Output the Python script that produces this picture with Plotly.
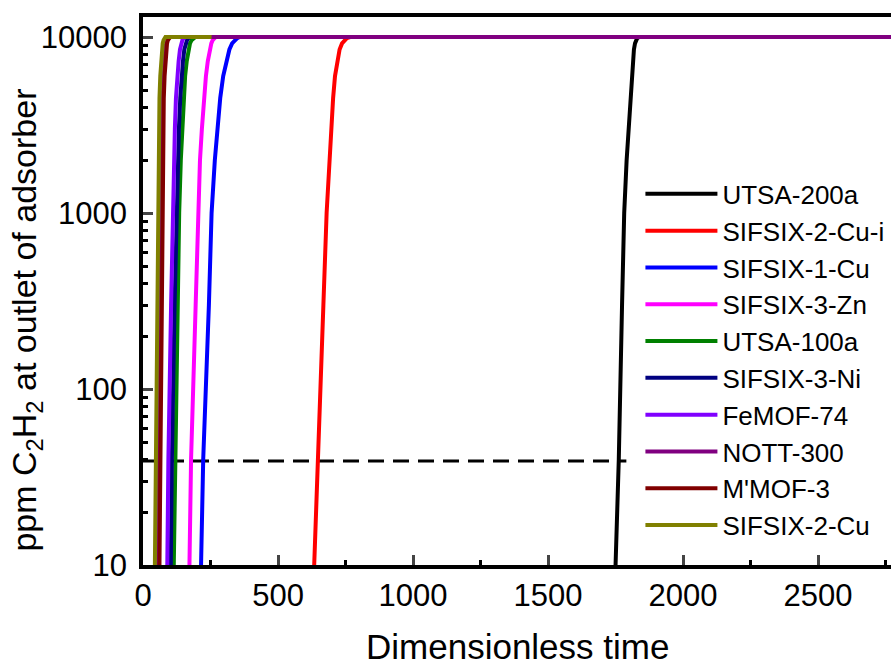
import plotly.graph_objects as go

# ---- data ----
names = ["UTSA-200a", "SIFSIX-2-Cu-i", "SIFSIX-1-Cu", "SIFSIX-3-Zn", "UTSA-100a",
         "SIFSIX-3-Ni", "FeMOF-74", "NOTT-300", "M'MOF-3", "SIFSIX-2-Cu"]
colors = ["#000000", "#FF0000", "#0000FF", "#FF00FF", "#008000",
          "#000080", "#8000FF", "#800080", "#800000", "#808000"]

ppm_levels = [10, 40, 300, 1000, 2000, 3000, 4500, 6000, 7300, 8500, 9200, 9600, 9850,
              10000, 10000]

t_utsa200a = [1750, 1762, 1774, 1782, 1791, 1798, 1804, 1810, 1814, 1818, 1822, 1826, 1830, 1837, 3000]
t_sifsix2cui = [634, 649, 668, 680, 690, 696, 704, 711, 719, 728, 737, 746, 755, 767, 3000]
t_sifsix1cu = [215, 223, 244, 254, 266, 275, 286, 297, 308, 320, 330, 340, 349, 358, 3000]
t_sifsix3zn = [172, 178, 195, 203, 211, 218, 226, 233, 240, 247, 253, 258, 263, 269, 3000]
t_utsa100a = [114, 119, 128, 134, 140, 145, 151, 156, 162, 168, 174, 180, 186, 194, 3000]
t_sifsix3ni = [103, 107, 117, 124, 129, 133, 138, 143, 148, 153, 158, 163, 168, 175, 3000]
t_femof74 = [90, 94, 104, 110, 114, 118, 122, 127, 132, 137, 142, 146, 151, 157, 3000]
t_nott300 = [56, 59, 64, 67, 69, 71, 73, 76, 79, 82, 86, 89, 93, 98, 3000]
t_mmof3 = [61, 64, 68, 71, 73, 75, 77, 80, 83, 86, 89, 92, 96, 101, 250]
t_sifsix2cu = [44, 48, 52, 55, 57, 59, 61, 64, 67, 70, 73, 76, 79, 83, 254]

series_t = [t_utsa200a, t_sifsix2cui, t_sifsix1cu, t_sifsix3zn, t_utsa100a,
            t_sifsix3ni, t_femof74, t_nott300, t_mmof3, t_sifsix2cu]

dash_level = 39
dash_x = [0, 1790]

x_ticks = [0, 500, 1000, 1500, 2000, 2500]
x_minor = [250, 750, 1250, 1750, 2250, 2750]
y_ticks = [10, 100, 1000, 10000]
y_minor = [v * m for m in (10, 100, 1000) for v in range(2, 10)]

FONT = "Arial, Liberation Sans, sans-serif"

fig = go.Figure()

fig.add_trace(go.Scatter(x=dash_x, y=[dash_level, dash_level], mode="lines",
                         line=dict(color="black", width=3, dash="16px,9px"),
                         showlegend=False, hoverinfo="skip"))

for i, (n, c, t) in enumerate(zip(names, colors, series_t)):
    fig.add_trace(go.Scatter(x=t, y=ppm_levels, mode="lines", name=n,
                             legendgroup=f"g{i}",
                             line=dict(color=c, width=4)))

fig.update_layout(
    width=891, height=665,
    margin=dict(l=143, r=0, t=17, b=100),
    paper_bgcolor="white", plot_bgcolor="white",
    font=dict(family=FONT, color="black"),
    showlegend=True,
    legend=dict(x=0.665, y=0.72, xanchor="left", yanchor="top",
                bgcolor="rgba(0,0,0,0)", borderwidth=0,
                font=dict(size=26, family=FONT, color="black"),
                traceorder="grouped", tracegroupgap=0, itemwidth=72),
    xaxis=dict(range=[0, 2770], tickvals=x_ticks, ticks="inside", ticklen=10, tickwidth=3,
               showline=True, linewidth=3.5, linecolor="black", mirror=True,
               showgrid=False, zeroline=False,
               tickfont=dict(size=31, family=FONT),
               minor=dict(tickvals=x_minor, ticks="inside",
                          ticklen=5, tickwidth=3, tickcolor="black")),
    yaxis=dict(type="log", range=[1, 4.114], tickvals=y_ticks,
               ticktext=[str(v) for v in y_ticks],
               ticks="inside", ticklen=10, tickwidth=3,
               showline=True, linewidth=3.5, linecolor="black", mirror=False,
               showgrid=False, zeroline=False,
               tickfont=dict(size=31, family=FONT), ticklabelstandoff=6,
               minor=dict(tickvals=y_minor, ticks="inside", ticklen=5, tickwidth=3,
                          tickcolor="black")),
    annotations=[
        dict(text="Dimensionless time", xref="paper", yref="paper", x=0.5, y=-0.148,
             xanchor="center", yanchor="middle", showarrow=False,
             font=dict(size=35, family=FONT, color="black")),
        dict(text="ppm C<sub>2</sub>H<sub>2</sub> at outlet of adsorber", xref="paper",
             yref="paper", x=-0.157, y=0.447, xanchor="center", yanchor="middle",
             textangle=-90, showarrow=False,
             font=dict(size=34, family=FONT, color="black")),
    ],
)

fig.write_html("out.html")
